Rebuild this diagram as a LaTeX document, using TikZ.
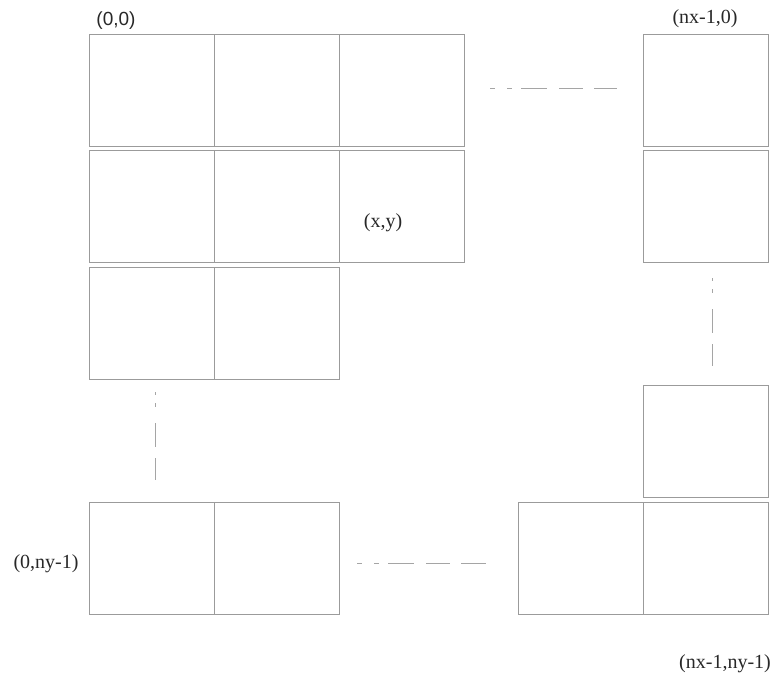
\documentclass[tikz,border=0pt]{standalone}
\usepackage{fontspec}
\setmainfont{Liberation Serif}
\newfontfamily\labsans{Liberation Sans}
\definecolor{edge}{RGB}{155,155,155}
\definecolor{dashc}{RGB}{165,165,165}
\definecolor{txt}{RGB}{40,40,40}
\begin{document}
\begin{tikzpicture}[x=1pt,y=-1pt,
  cell/.style={draw=edge,line width=1pt,anchor=north west,minimum width=125pt,minimum height=112pt,inner sep=0pt,outer sep=0pt},
  lab/.style={text=txt,font=\fontsize{20}{22}\selectfont,inner sep=0pt},
  hdots/.style={draw=dashc,line width=1pt,dash pattern=on 5pt off 12pt on 5pt off 9pt on 26pt off 12pt on 24pt off 11pt on 25pt off 40pt},
  vdots/.style={draw=dashc,line width=1pt,dash pattern=on 3pt off 8pt on 4pt off 16pt on 24pt off 11pt on 22pt off 40pt}]
\path[fill=white] (0,0) rectangle (777,681);
\useasboundingbox (0,0) rectangle (777,681);
% row 1
\node[cell] (a11) at (89,34) {};
\node[cell] (a12) at (214,34) {};
\node[cell] (a13) at (339,34) {};
\node[cell] (a1n) at (643,34) {};
% row 2
\node[cell] (a21) at (89,150) {};
\node[cell] (a22) at (214,150) {};
\node[cell] (a23) at (339,150) {};
\node[cell] (a2n) at (643,150) {};
% row 3
\node[cell] (a31) at (89,267) {};
\node[cell] (a32) at (214,267) {};
% right column, second last
\node[cell] (amn) at (643,385) {};
% last row
\node[cell] (b1) at (89,502) {};
\node[cell] (b2) at (214,502) {};
\node[cell] (bn1) at (518,502) {};
\node[cell] (bnn) at (643,502) {};
% labels
\node[lab,font=\labsans\fontsize{19}{21}\selectfont] (l00) at (116,21) {(0,0)};
\node[lab] (ln0) at (705,19) {(nx-1,0)};
\node[lab] (lxy) at (383,223) {(x,y)};
\node[lab] (l0n) at (46,564) {(0,ny-1)};
\node[lab] (lnn) at (725,664) {(nx-1,ny-1)};
% ellipsis connectors
\coordinate (h1s) at ([xshift=26pt,yshift=2pt]a13.east);
\coordinate (h1e) at ([xshift=-26pt,yshift=2pt]a1n.west);
\draw[hdots] (h1s) -- (h1e);
\coordinate (h2s) at ([xshift=18pt,yshift=-5pt]b2.east);
\coordinate (h2e) at ([xshift=-30pt,yshift=-5pt]bn1.west);
\draw[hdots] (h2s) -- (h2e);
\coordinate (v1s) at ([xshift=3.5pt,yshift=-13pt]a31.south);
\coordinate (v1e) at ([xshift=3.5pt,yshift=22pt]b1.north);
\draw[vdots] (v1s) -- (v1e);
\coordinate (v2s) at ([xshift=6.5pt,yshift=-16pt]a2n.south);
\coordinate (v2e) at ([xshift=6.5pt,yshift=18pt]amn.north);
\draw[vdots] (v2s) -- (v2e);
\end{tikzpicture}
\end{document}
